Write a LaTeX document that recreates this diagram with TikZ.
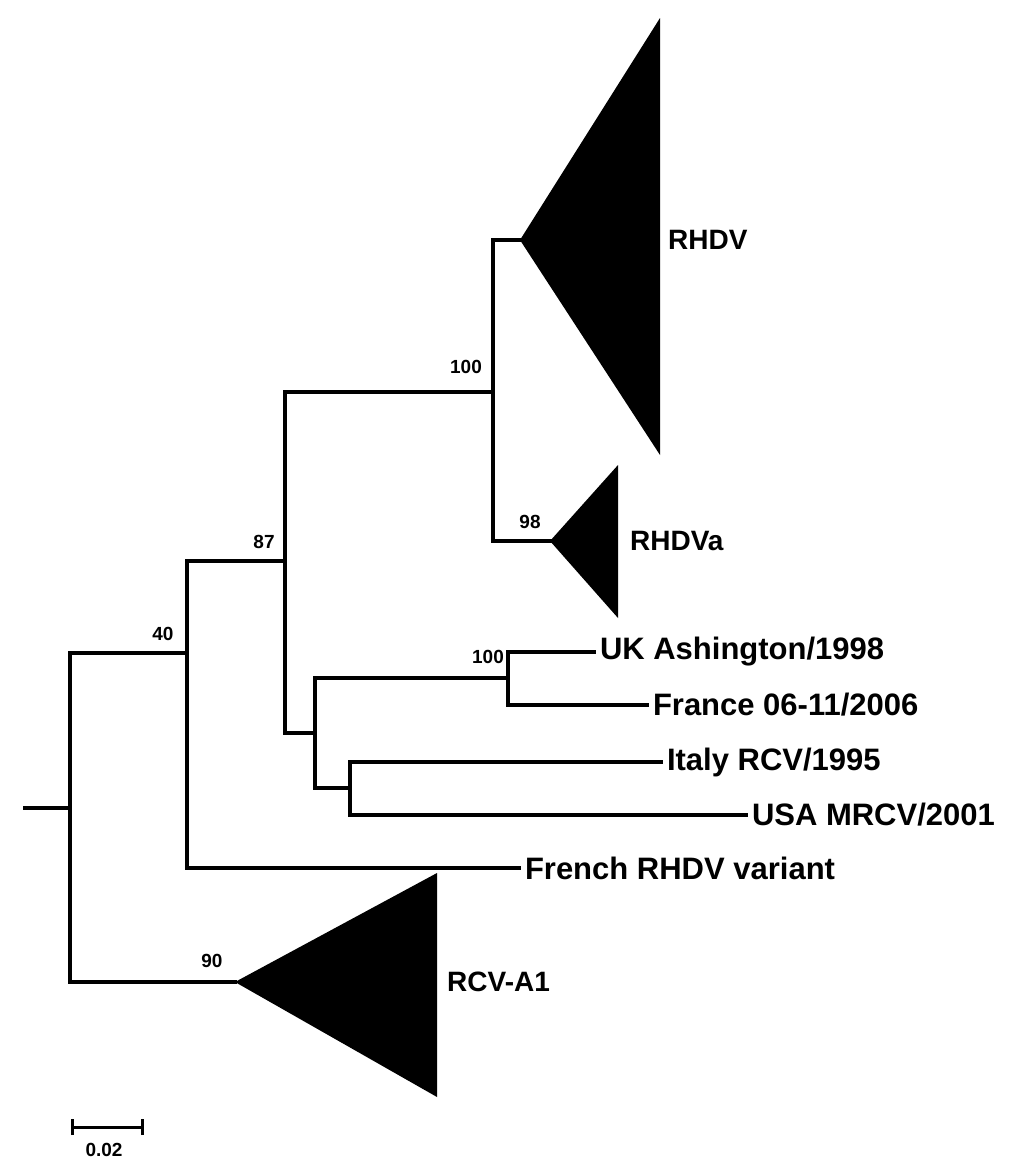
\documentclass[tikz,border=0pt]{standalone}
\usepackage{fontspec}
\setmainfont{Liberation Sans}
\begin{document}
\begin{tikzpicture}[x=1pt,y=-1pt,
  br/.style={line width=4pt, line cap=rect, line join=miter},
  leaf/.style={font=\fontsize{31}{36}\selectfont\bfseries, inner sep=0pt, outer xsep=6pt, anchor=west},
  clade/.style={font=\fontsize{28}{33}\selectfont\bfseries, inner sep=0pt, anchor=west},
  bs/.style={font=\fontsize{19}{22}\selectfont\bfseries, inner sep=0pt},
  tri/.style={fill=black}]
\useasboundingbox (0,0) rectangle (1021,1168);
% internal nodes
\coordinate (stub) at (25,808);
\coordinate (root) at (70,808);
\coordinate (nA) at (187,653);
\coordinate (nB) at (285,561);
\coordinate (nC) at (493,392);
\coordinate (nD) at (315,733);
\coordinate (nE) at (508,678);
\coordinate (nF) at (350,788);
% collapsed clades
\coordinate (rhdvApex) at (520,240);
\coordinate (rhdvTop) at (660,18);
\coordinate (rhdvBot) at (660,455);
\coordinate (rhdvaApex) at (550,541);
\coordinate (rhdvaTop) at (618,465);
\coordinate (rhdvaBot) at (618,618);
\coordinate (rcvApex) at (235,982);
\coordinate (rcvTop) at (437,873);
\coordinate (rcvBot) at (437,1097);
\fill[tri] (rhdvApex) -- (rhdvTop) -- (rhdvBot) -- cycle;
\fill[tri] (rhdvaApex) -- (rhdvaTop) -- (rhdvaBot) -- cycle;
\fill[tri] (rcvApex) -- (rcvTop) -- (rcvBot) -- cycle;
\node[clade] (rhdvL) at (668,240) {RHDV};
\node[clade] (rhdvaL) at (630,541) {RHDVa};
\node[clade] (rcvL) at (447,982) {RCV-A1};
% leaves
\node[leaf] (uk) at (594,652) {UK Ashington/1998};
\node[leaf] (fr) at (647,705) {France 06-11/2006};
\node[leaf] (it) at (661,762) {Italy RCV/1995};
\node[leaf] (us) at (746,815) {USA MRCV/2001};
\node[leaf] (frv) at (519,868) {French RHDV variant};
% branches
\draw[br] (stub) -- (root);
\draw[br] (root) |- (nA);
\draw[br] (root) |- (rcvApex);
\draw[br] (nA) |- (nB);
\draw[br] (nA) |- (frv.west);
\draw[br] (nB) |- (nC);
\draw[br] (nB) |- (nD);
\draw[br] (nC) |- (rhdvApex);
\draw[br] (nC) |- (rhdvaApex);
\draw[br] (nD) |- (nE);
\draw[br] (nD) |- (nF);
\draw[br] (nE) |- (uk.west);
\draw[br] (nE) |- (fr.west);
\draw[br] (nF) |- (it.west);
\draw[br] (nF) |- (us.west);
% support values
\node[bs] (bC) at (466,367) {100};
\node[bs] (bRa) at (530,522) {98};
\node[bs] (bE) at (488,657) {100};
\node[bs] (bB) at (264,542) {87};
\node[bs] (bA) at (163,634) {40};
\node[bs] (bR) at (212,961) {90};
% scale bar
\coordinate (sb1) at (72,1127);
\coordinate (sb2) at (142,1127);
\draw[line width=3pt] (sb1) -- (sb2);
\draw[line width=3pt] ([yshift=-8pt]sb1) -- ([yshift=8pt]sb1);
\draw[line width=3pt] ([yshift=-8pt]sb2) -- ([yshift=8pt]sb2);
\node[bs] (sbL) at (104,1150) {0.02};
\end{tikzpicture}
\end{document}
